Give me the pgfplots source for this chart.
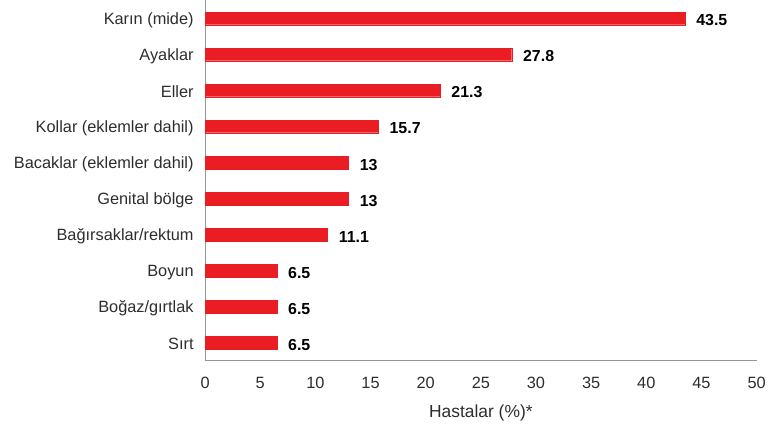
\documentclass[border=0pt]{standalone}
\usepackage{fontspec}
\setmainfont{Liberation Sans}
\usepackage{pgfplots}
\pgfplotsset{compat=1.18}
\definecolor{barred}{RGB}{234,29,37}
\definecolor{axgray}{RGB}{150,150,150}
\definecolor{txt}{RGB}{45,45,45}
\begin{document}
\begin{tikzpicture}
\path (-206pt,-63pt) rectangle (563pt,362pt);
\begin{axis}[at={(0pt,0pt)}, anchor=south west, scale only axis, width=554pt, height=362pt,
 xmin=0, xmax=50, ymin=-0.5, ymax=9.5,
 axis x line*=bottom, axis y line*=left,
 axis line style={axgray, line width=0.8pt, -},
 xtick={0,5,...,50}, ytick={0,...,9},
 yticklabels={Sırt, Boğaz/gırtlak, Boyun, Bağırsaklar/rektum, Genital bölge, Bacaklar (eklemler dahil), Kollar (eklemler dahil), Eller, Ayaklar, Karın (mide)},
 major tick length=0pt,
 tick label style={font=\fontsize{16.4}{18}\selectfont, text=txt},
 xticklabel style={yshift=-13pt},
 yticklabel style={xshift=-8pt, yshift=-1.5pt},
 /pgf/number format/assume math mode=true,
 xlabel={Hastalar (\%)*},
 xlabel style={font=\fontsize{17.5}{19}\selectfont, text=txt, yshift=-9pt},
 xbar, bar width=12.5pt,
 nodes near coords,
 nodes near coords style={font=\bfseries\fontsize{16}{18}\selectfont, anchor=west, xshift=8pt, yshift=-2pt, text=black, /pgf/number format/assume math mode=true},
 clip=false]
\addplot[fill=barred, draw=barred, line width=0.2pt] coordinates {(6.5,0) (6.5,1) (6.5,2) (11.1,3) (13,4) (13,5) (15.7,6) (21.3,7) (27.8,8) (43.5,9)};
\end{axis}
\end{tikzpicture}
\end{document}
